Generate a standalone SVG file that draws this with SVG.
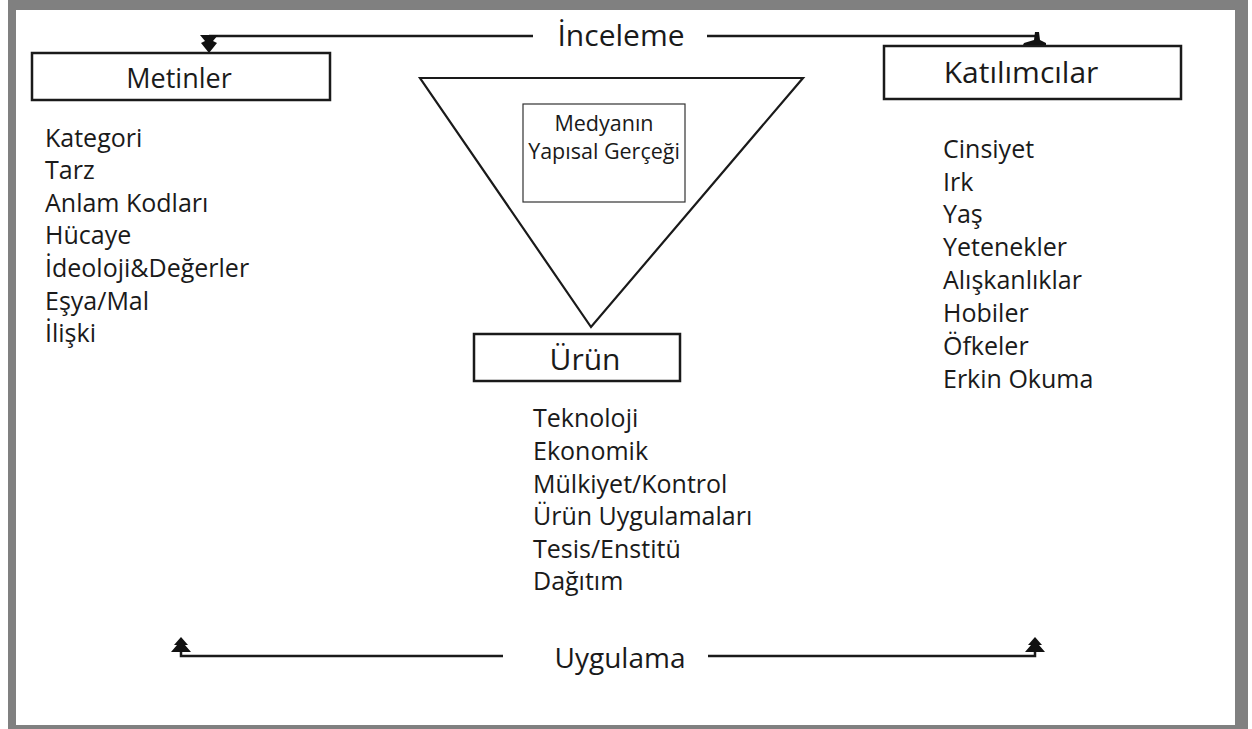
<svg xmlns="http://www.w3.org/2000/svg" width="1252" height="729" viewBox="0 0 1252 729">
<style>
.t{font-family:"Open Sans","Noto Sans","Liberation Sans",sans-serif;fill:#1a1a1a}
.lst{font-size:25px}
.box{fill:#fff;stroke:#1a1a1a;stroke-width:2.5}
.ln{fill:none;stroke:#1a1a1a;stroke-width:2.5}
.ah{fill:#111;stroke:none}
</style>
<rect x="0" y="0" width="1252" height="729" fill="#fff"/>
<rect x="8" y="0" width="1240" height="729" fill="#808080"/>
<rect x="16" y="10" width="1219" height="715" fill="#fff"/>

<g id="connectors">
  <line class="ln" x1="209" y1="36" x2="533" y2="36"/>
  <line class="ln" x1="707" y1="36" x2="1037" y2="36"/>
  <path class="ah" d="M200,35 L218,35 L213,41 L217,43 L209,53 L201,43 L205,41 Z"/>
  <path class="ah" d="M1035,32 L1039,32 L1040,40 L1046,43 L1046,47 L1022,47 L1024,43 L1034,40 Z"/>
  <path class="ln" d="M181,648 L181,656 L503,656"/>
  <path class="ln" d="M1035,648 L1035,656 L708,656"/>
  <path class="ah" d="M181,637 L188,645 L185,645 L191,652 L171,652 L177,645 L174,645 Z"/>
  <path class="ah" d="M1035,637 L1042,645 L1039,645 L1045,652 L1025,652 L1031,645 L1028,645 Z"/>
  <text class="t" x="621" y="46" font-size="30" text-anchor="middle">İnceleme</text>
  <text class="t" x="620" y="668" font-size="28" text-anchor="middle">Uygulama</text>
</g>

<g id="metinler">
  <rect class="box" x="32" y="53" width="298" height="47"/>
  <text class="t" x="179" y="88" font-size="27" text-anchor="middle">Metinler</text>
  <g class="t lst">
    <text x="45" y="147">Kategori</text>
    <text x="45" y="179">Tarz</text>
    <text x="45" y="212">Anlam Kodları</text>
    <text x="45" y="244">Hücaye</text>
    <text x="45" y="277">İdeoloji&amp;Değerler</text>
    <text x="45" y="310">Eşya/Mal</text>
    <text x="45" y="342">İlişki</text>
  </g>
</g>

<g id="katilimcilar">
  <rect class="box" x="884" y="46" width="297" height="53"/>
  <text class="t" x="1021" y="83" font-size="30" text-anchor="middle">Katılımcılar</text>
  <g class="t lst">
    <text x="943" y="158">Cinsiyet</text>
    <text x="943" y="191">Irk</text>
    <text x="943" y="223">Yaş</text>
    <text x="943" y="256">Yetenekler</text>
    <text x="943" y="289">Alışkanlıklar</text>
    <text x="943" y="322">Hobiler</text>
    <text x="943" y="355">Öfkeler</text>
    <text x="943" y="388">Erkin Okuma</text>
  </g>
</g>

<g id="medya">
  <path d="M420,78 L803,78 L591,327 Z" fill="none" stroke="#1a1a1a" stroke-width="2.2" stroke-linejoin="miter"/>
  <rect x="523" y="104" width="162" height="98" fill="#fff" stroke="#333" stroke-width="1.2"/>
  <text class="t" x="604" y="131" font-size="21.5" text-anchor="middle">Medyanın</text>
  <text class="t" x="604" y="159" font-size="21.5" text-anchor="middle">Yapısal Gerçeği</text>
</g>

<g id="urun">
  <rect class="box" x="474" y="334" width="206" height="47"/>
  <text class="t" x="585" y="370" font-size="30" text-anchor="middle">Ürün</text>
  <g class="t lst">
    <text x="533" y="427">Teknoloji</text>
    <text x="533" y="460">Ekonomik</text>
    <text x="533" y="493">Mülkiyet/Kontrol</text>
    <text x="533" y="525">Ürün Uygulamaları</text>
    <text x="533" y="558">Tesis/Enstitü</text>
    <text x="533" y="590">Dağıtım</text>
  </g>
</g>
</svg>
